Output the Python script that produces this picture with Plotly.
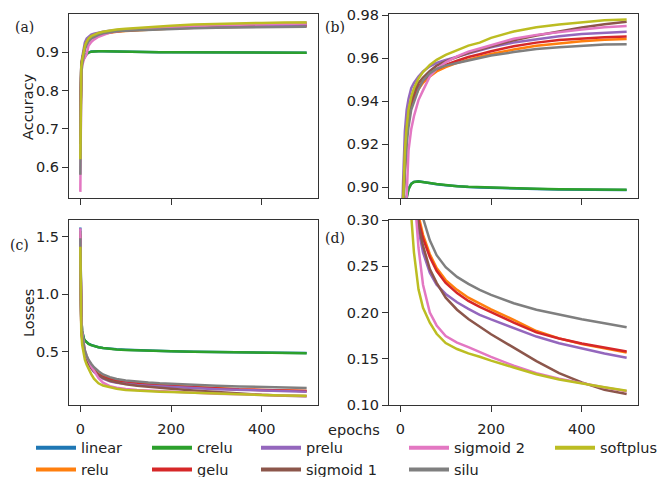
import plotly.graph_objects as go

W, H = 662, 477

names = ["linear", "relu", "crelu", "gelu", "prelu", "sigmoid 1", "sigmoid 2", "silu", "softplus"]
colors = ["#1f77b4", "#ff7f0e", "#2ca02c", "#d62728", "#9467bd", "#8c564b", "#e377c2", "#7f7f7f", "#bcbd22"]

epochs = [0, 1, 2, 4, 6, 8, 10, 14, 18, 24, 30, 40, 50, 65, 80, 100, 125, 150, 175, 200, 250, 300, 350, 400, 450, 499]

acc_linear = [0.70, 0.84, 0.86, 0.876, 0.881, 0.886, 0.890, 0.8955, 0.8993, 0.9017, 0.9025, 0.9028, 0.9024, 0.9019, 0.9014, 0.9009, 0.9004, 0.9001, 0.8999, 0.8997, 0.8994, 0.8992, 0.8990, 0.8989, 0.8988, 0.8987]
acc_relu = [0.70, 0.83, 0.86, 0.879, 0.892, 0.902, 0.912, 0.924, 0.931, 0.937, 0.941, 0.9455, 0.9485, 0.9515, 0.9538, 0.9558, 0.9578, 0.9593, 0.9606, 0.9619, 0.9640, 0.9657, 0.9669, 0.9678, 0.9685, 0.9689]
acc_crelu = [0.70, 0.84, 0.86, 0.875, 0.880, 0.885, 0.889, 0.895, 0.899, 0.9015, 0.9024, 0.9027, 0.9025, 0.9020, 0.9015, 0.9010, 0.9005, 0.9002, 0.9000, 0.8998, 0.8995, 0.8993, 0.8991, 0.8990, 0.8989, 0.8988]
acc_gelu = [0.68, 0.83, 0.86, 0.880, 0.893, 0.903, 0.913, 0.925, 0.932, 0.938, 0.942, 0.9465, 0.9495, 0.9525, 0.9548, 0.9568, 0.9588, 0.9605, 0.9618, 0.9632, 0.9655, 0.9672, 0.9684, 0.9691, 0.9697, 0.9700]
acc_prelu = [0.70, 0.84, 0.87, 0.886, 0.902, 0.915, 0.926, 0.936, 0.941, 0.946, 0.9485, 0.9515, 0.9538, 0.9562, 0.9578, 0.9592, 0.9606, 0.9620, 0.9637, 0.9650, 0.9673, 0.9688, 0.9702, 0.9712, 0.9718, 0.9723]
acc_sigmoid1 = [0.66, 0.83, 0.86, 0.880, 0.895, 0.905, 0.915, 0.927, 0.934, 0.940, 0.944, 0.9485, 0.9510, 0.9540, 0.9565, 0.9585, 0.9605, 0.9625, 0.9640, 0.9655, 0.9683, 0.9705, 0.9725, 0.9742, 0.9757, 0.9769]
acc_sigmoid2 = [0.535, 0.80, 0.84, 0.865, 0.877, 0.882, 0.886, 0.896, 0.917, 0.927, 0.933, 0.9405, 0.9450, 0.9515, 0.9550, 0.9580, 0.9608, 0.9630, 0.9645, 0.9660, 0.9690, 0.9708, 0.9722, 0.9733, 0.9743, 0.9749]
acc_silu = [0.58, 0.80, 0.84, 0.868, 0.885, 0.897, 0.908, 0.920, 0.928, 0.936, 0.940, 0.9455, 0.9495, 0.9530, 0.9550, 0.9565, 0.9577, 0.9588, 0.9602, 0.9612, 0.9628, 0.9642, 0.9650, 0.9657, 0.9663, 0.9665]
acc_softplus = [0.62, 0.82, 0.86, 0.880, 0.892, 0.905, 0.917, 0.928, 0.936, 0.942, 0.946, 0.9505, 0.9535, 0.9568, 0.9592, 0.9615, 0.9638, 0.9658, 0.9672, 0.9694, 0.9724, 0.9743, 0.9756, 0.9767, 0.9776, 0.9780]

loss_linear = [1.58, 1.0, 0.80, 0.68, 0.631, 0.611, 0.598, 0.581, 0.569, 0.558, 0.549, 0.539, 0.532, 0.525, 0.520, 0.516, 0.512, 0.509, 0.506, 0.504, 0.500, 0.497, 0.494, 0.492, 0.490, 0.488]
loss_relu = [1.50, 0.90, 0.745, 0.625, 0.565, 0.525, 0.495, 0.445, 0.410, 0.370, 0.340, 0.305, 0.284, 0.263, 0.248, 0.235, 0.2245, 0.216, 0.2095, 0.2035, 0.192, 0.180, 0.172, 0.166, 0.1612, 0.1567]
loss_crelu = [1.55, 1.0, 0.80, 0.68, 0.630, 0.610, 0.597, 0.580, 0.568, 0.557, 0.548, 0.538, 0.531, 0.524, 0.519, 0.515, 0.511, 0.508, 0.505, 0.503, 0.499, 0.496, 0.493, 0.491, 0.489, 0.487]
loss_gelu = [1.48, 0.90, 0.740, 0.620, 0.560, 0.520, 0.490, 0.440, 0.405, 0.365, 0.335, 0.300, 0.280, 0.260, 0.245, 0.232, 0.221, 0.2125, 0.206, 0.2005, 0.189, 0.1785, 0.1718, 0.1665, 0.1622, 0.1578]
loss_prelu = [1.50, 0.90, 0.730, 0.610, 0.550, 0.510, 0.480, 0.430, 0.395, 0.355, 0.325, 0.290, 0.265, 0.243, 0.230, 0.220, 0.211, 0.204, 0.1975, 0.1925, 0.183, 0.174, 0.1668, 0.161, 0.1557, 0.151]
loss_sigmoid1 = [1.52, 0.93, 0.760, 0.630, 0.570, 0.520, 0.490, 0.440, 0.400, 0.360, 0.330, 0.295, 0.272, 0.247, 0.232, 0.216, 0.203, 0.193, 0.1845, 0.1765, 0.162, 0.1475, 0.1345, 0.1245, 0.1165, 0.112]
loss_sigmoid2 = [1.573, 1.0, 0.800, 0.670, 0.600, 0.550, 0.510, 0.460, 0.420, 0.372, 0.335, 0.270, 0.230, 0.200, 0.186, 0.1745, 0.1675, 0.1625, 0.157, 0.152, 0.1425, 0.1345, 0.1285, 0.1235, 0.119, 0.1148]
loss_silu = [1.486, 0.93, 0.760, 0.640, 0.580, 0.540, 0.510, 0.465, 0.430, 0.395, 0.365, 0.330, 0.302, 0.278, 0.262, 0.249, 0.2385, 0.231, 0.2245, 0.219, 0.210, 0.203, 0.1975, 0.1928, 0.1884, 0.1841]
loss_softplus = [1.413, 0.85, 0.680, 0.560, 0.500, 0.460, 0.430, 0.385, 0.350, 0.305, 0.265, 0.225, 0.205, 0.189, 0.177, 0.167, 0.1605, 0.1558, 0.1522, 0.148, 0.1405, 0.1332, 0.1275, 0.123, 0.1192, 0.1155]

acc = [acc_linear, acc_relu, acc_crelu, acc_gelu, acc_prelu, acc_sigmoid1, acc_sigmoid2, acc_silu, acc_softplus]
loss = [loss_linear, loss_relu, loss_crelu, loss_gelu, loss_prelu, loss_sigmoid1, loss_sigmoid2, loss_silu, loss_softplus]

xticks = [0, 200, 400]
xrange_ = [-25, 524]

fig = go.Figure()

panels = [("x", "y", acc), ("x2", "y2", acc), ("x3", "y3", loss), ("x4", "y4", loss)]
for xa, ya, data in panels:
    for i, nm in enumerate(names):
        fig.add_trace(go.Scatter(x=epochs, y=data[i], mode="lines", xaxis=xa, yaxis=ya,
                                 line=dict(color=colors[i], width=2.5), showlegend=False,
                                 hoverinfo="skip"))

# legend (matplotlib ncol=5, column-major): swatch-start x (px) per column, row centres (px)
col_x = [36, 152, 261, 409, 555]
row_y = [447.7, 469.5]
for i, nm in enumerate(names):
    key = "legend" if i == 0 else f"legend{i+1}"
    fig.add_trace(go.Scatter(x=[None], y=[None], mode="lines", name=nm,
                             line=dict(color=colors[i], width=4),
                             legend=key, showlegend=True, xaxis="x", yaxis="y"))

def px_x(v):
    return v / W

def px_y(v):
    return 1 - v / H

axis_common = dict(showline=True, linecolor="#333333", linewidth=1.2, mirror=True,
                   ticks="outside", ticklen=6, tickwidth=1.2, tickcolor="#333333",
                   showgrid=False, zeroline=False,
                   tickfont=dict(family="DejaVu Sans", size=14.5, color="#222222"))

dom_xl = [px_x(69), px_x(318)]
dom_xr = [px_x(389), px_x(638)]
dom_yt = [px_y(198), px_y(14)]
dom_yb = [px_y(405), px_y(220)]

layout = dict(
    width=W, height=H,
    margin=dict(l=0, r=0, t=0, b=0, autoexpand=False),
    paper_bgcolor="white", plot_bgcolor="white",
    font=dict(family="DejaVu Sans", size=14.5, color="#222222"),
    xaxis=dict(domain=dom_xl, anchor="y", range=xrange_, tickvals=xticks, showticklabels=False, **axis_common),
    yaxis=dict(domain=dom_yt, anchor="x", range=[0.519, 1.0], tickvals=[0.6, 0.7, 0.8, 0.9], tickformat=".1f", **axis_common),
    xaxis2=dict(domain=dom_xr, anchor="y2", range=xrange_, tickvals=xticks, showticklabels=False, **axis_common),
    yaxis2=dict(domain=dom_yt, anchor="x2", range=[0.895, 0.9805], tickvals=[0.90, 0.92, 0.94, 0.96, 0.98], tickformat=".2f", **axis_common),
    xaxis3=dict(domain=dom_xl, anchor="y3", range=xrange_, tickvals=xticks, ticklabelstandoff=4, **axis_common),
    yaxis3=dict(domain=dom_yb, anchor="x3", range=[0.036, 1.645], tickvals=[0.5, 1.0, 1.5], tickformat=".1f", **axis_common),
    xaxis4=dict(domain=dom_xr, anchor="y4", range=xrange_, tickvals=xticks, ticklabelstandoff=4, **axis_common),
    yaxis4=dict(domain=dom_yb, anchor="x4", range=[0.10, 0.30], tickvals=[0.10, 0.15, 0.20, 0.25, 0.30], tickformat=".2f", **axis_common),
)

for i, nm in enumerate(names):
    c, r = divmod(i, 2)
    key = "legend" if i == 0 else f"legend{i+1}"
    layout[key] = dict(x=px_x(col_x[c] - 5), y=px_y(row_y[r]), xanchor="left", yanchor="middle",
                       bgcolor="rgba(0,0,0,0)", borderwidth=0, itemwidth=40,
                       font=dict(family="DejaVu Sans", size=14.5, color="#222222"))

ann = []
serif = dict(family="DejaVu Serif", size=14, color="#222222")
for txt, xp, yp in [("(a)", 13, 27), ("(b)", 323, 27), ("(c)", 8, 245), ("(d)", 323, 238)]:
    ann.append(dict(text=txt, x=px_x(xp), y=px_y(yp), xref="paper", yref="paper",
                    xanchor="left", yanchor="middle", showarrow=False, font=serif))
ann.append(dict(text="Accuracy", x=px_x(28), y=px_y(107), xref="paper", yref="paper", textangle=-90,
                xanchor="center", yanchor="middle", showarrow=False,
                font=dict(family="DejaVu Sans", size=14.5, color="#222222")))
ann.append(dict(text="Losses", x=px_x(29), y=px_y(313), xref="paper", yref="paper", textangle=-90,
                xanchor="center", yanchor="middle", showarrow=False,
                font=dict(family="DejaVu Sans", size=14.5, color="#222222")))
ann.append(dict(text="epochs", x=px_x(354), y=px_y(430), xref="paper", yref="paper",
                xanchor="center", yanchor="middle", showarrow=False,
                font=dict(family="DejaVu Sans", size=14.5, color="#222222")))
layout["annotations"] = ann

fig.update_layout(**layout)
fig.write_html("out.html", config={"displayModeBar": False},
               post_script="document.body.style.margin='0';document.body.style.overflow='hidden';")
